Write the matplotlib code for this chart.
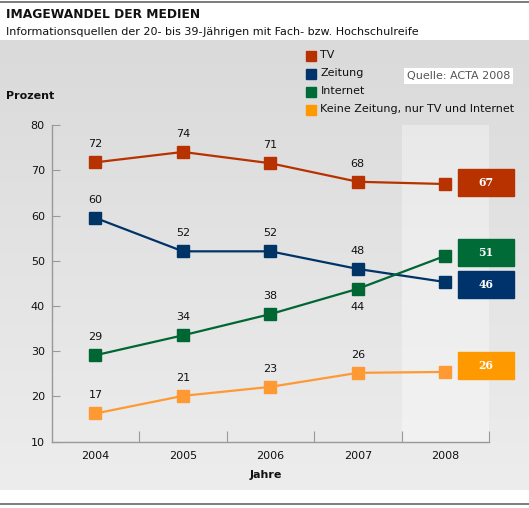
import numpy as np
import matplotlib
matplotlib.use("Agg")
import matplotlib.pyplot as plt
from matplotlib.patches import Rectangle

# data
jahre = ["2004", "2005", "2006", "2007", "2008"]
reihen = ["TV", "Zeitung", "Internet", "Keine Zeitung, nur TV und Internet"]

tv = [71.8, 74.1, 71.6, 67.5, 67.0]
zeitung = [59.5, 52.1, 52.1, 48.2, 45.3]
internet = [29.1, 33.5, 38.2, 43.8, 51.1]
keine = [16.2, 20.1, 22.1, 25.2, 25.4]

tv_lab = [72, 74, 71, 68, 67]
zeitung_lab = [60, 52, 52, 48, 46]
internet_lab = [29, 34, 38, 44, 51]
keine_lab = [17, 21, 23, 26, 26]

y_ticks = [10, 20, 30, 40, 50, 60, 70, 80]

werte = [tv, zeitung, internet, keine]
labels = [tv_lab, zeitung_lab, internet_lab, keine_lab]
farben = ["#b83200", "#003366", "#006633", "#ff9933"]
box_farben = ["#b83200", "#00336b", "#006b36", "#ff9900"]
box_shift = [0.4, -1.2, 0.9, 0.8]   # so the end boxes do not overlap

FS = 8.0
W, H = 529, 508
fig = plt.figure(figsize=(W / 100, H / 100), dpi=100)

# background: grey gradient panel between the white header and footer
bg = fig.add_axes([0, 0, 1, 1], zorder=-10)
bg.set_xlim(0, W)
bg.set_ylim(H, 0)
bg.axis("off")
grad = np.linspace(0, 1, 256).reshape(-1, 1)
bg.imshow(grad, cmap=matplotlib.colors.LinearSegmentedColormap.from_list(
    "g", ["#dadada", "#ededed"]), extent=[0, W, 490, 40], aspect="auto")
bg.plot([0, W], [2, 2], color="#666666", lw=1.2)
bg.plot([0, W], [504, 504], color="#666666", lw=1.2)

fig.text(6 / W, 1 - 15 / H, "IMAGEWANDEL DER MEDIEN", fontsize=8.8,
         fontweight="bold", color="#111111", va="center")
fig.text(6 / W, 1 - 32 / H,
         "Informationsquellen der 20- bis 39-Jährigen mit Fach- bzw. Hochschulreife",
         fontsize=FS, color="#111111", va="center")
fig.text(6 / W, 1 - 96 / H, "Prozent", fontsize=FS, fontweight="bold",
         color="#111111", va="center")
fig.text(407 / W, 1 - 76 / H, "Quelle: ACTA 2008", fontsize=FS,
         color="#555555", va="center",
         bbox=dict(facecolor="white", edgecolor="none", pad=2.0))

# legend drawn by hand
for i, (name, c) in enumerate(zip(reihen, box_farben)):
    yy = 55.5 + i * 18
    bg.add_patch(Rectangle((306, yy - 5), 10, 10, color=c))
    bg.text(320.5, yy, name, fontsize=FS, color="#111111", va="center")

ax = fig.add_axes([51.7 / W, 1 - 441.5 / H, (489 - 51.7) / W, (441.5 - 125.3) / H])
ax.patch.set_alpha(0)
x = np.arange(len(jahre))
ax.set_xlim(-0.5, 4.5)
ax.set_ylim(10, 80)

ax.add_patch(Rectangle((3.5, 10), 1, 70, facecolor="white", alpha=0.35,
                       edgecolor="none", zorder=0))

for v, lab, c, bc, sh in zip(werte, labels, farben, box_farben, box_shift):
    ax.plot(x, v, color=c, lw=1.6, marker="s", ms=8, zorder=3)
    for i in range(4):
        off = -13 if (c == "#006633" and i == 3) else 13
        ax.annotate(str(lab[i]), (x[i], v[i]), xytext=(0, off),
                    textcoords="offset points", ha="center", va="center",
                    fontsize=FS, color="#111111")
    yb = lab[4] + sh
    ax.add_patch(Rectangle((4.146, yb - 2.95), 0.64, 5.9, color=bc,
                           clip_on=False, zorder=4))
    ax.text(4.466, yb, str(lab[4]), ha="center", va="center", color="white",
            fontsize=7.8, fontweight="bold", family="DejaVu Serif", zorder=5)

for s in ["top", "right"]:
    ax.spines[s].set_visible(False)
for s in ["left", "bottom"]:
    ax.spines[s].set_color("#999999")
    ax.spines[s].set_linewidth(1)

ax.set_yticks(y_ticks)
ax.tick_params(axis="y", direction="in", length=6, color="#999999",
               labelsize=FS, labelcolor="#111111", pad=5)
ax.set_xticks(np.arange(0.5, 5, 1))
ax.set_xticklabels([])
ax.tick_params(axis="x", direction="in", length=8, color="#999999")
for i, j in enumerate(jahre):
    ax.text(x[i], -0.045, j, transform=ax.get_xaxis_transform(), ha="center",
            va="center", fontsize=FS, color="#111111")
ax.text(0.49, -0.105, "Jahre", transform=ax.transAxes, ha="center",
        va="center", fontsize=FS, fontweight="bold", color="#111111")

fig.savefig("out.png", dpi=100)
